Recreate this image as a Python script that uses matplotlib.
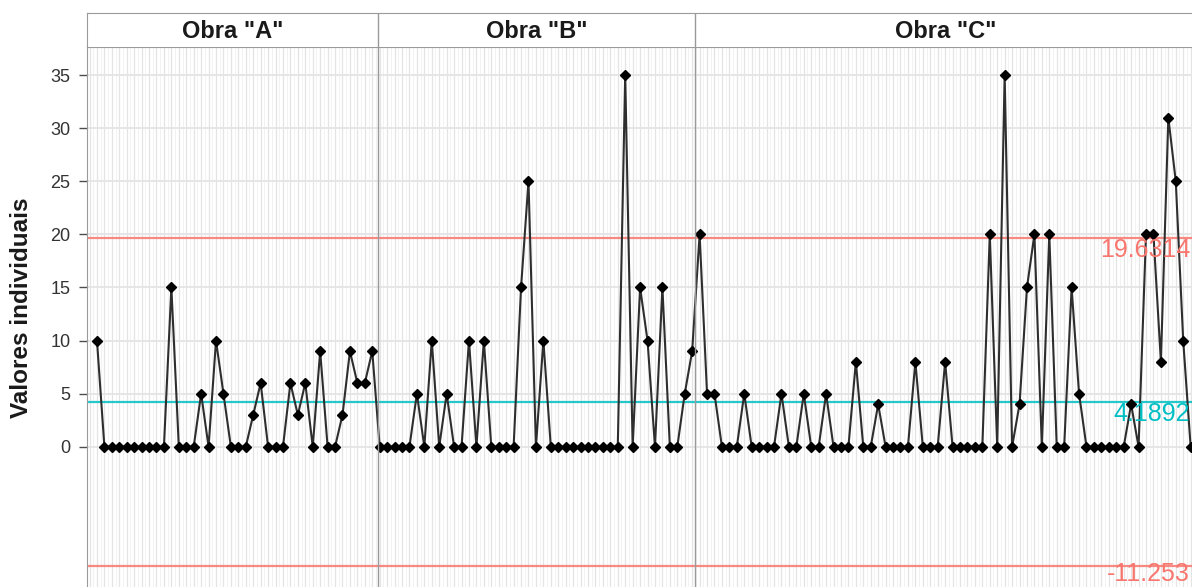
import matplotlib.pyplot as plt
import numpy as np

plt.rcParams['font.family'] = ['Liberation Sans', 'DejaVu Sans']

obras = ['Obra "A"', 'Obra "B"', 'Obra "C"']
obra_a = [10, 0, 0, 0, 0, 0, 0, 0, 0, 0, 15, 0, 0, 0, 5, 0, 10, 5, 0, 0, 0,
          3, 6, 0, 0, 0, 6, 3, 6, 0, 9, 0, 0, 3, 9, 6, 6, 9]
obra_b = [0, 0, 0, 0, 0, 5, 0, 10, 0, 5, 0, 0, 10, 0, 10, 0, 0, 0, 0, 15, 25,
          0, 10, 0, 0, 0, 0, 0, 0, 0, 0, 0, 0, 35, 0, 15, 10, 0, 15, 0, 0, 5, 9]
obra_c = [20, 5, 5, 0, 0, 0, 5, 0, 0, 0, 0, 5, 0, 0, 5, 0, 0, 5, 0, 0, 0, 8,
          0, 0, 4, 0, 0, 0, 0, 8, 0, 0, 0, 8, 0, 0, 0, 0, 0, 20, 0, 35, 0, 4,
          15, 20, 0, 20, 0, 0, 15, 5, 0, 0, 0, 0, 0, 0, 4, 0, 20, 20, 8, 31,
          25, 10, 0]
ucl = 19.6314
cl = 4.1892
lcl = -11.253

valores = np.array(obra_a + obra_b + obra_c, dtype=float)
idx = np.arange(len(valores))
n_a, n_b = len(obra_a), len(obra_b)

# panel limits in index units
x_left = -1.34
x_right = x_left + 1105 / 7.44
limites = [x_left, n_a - 0.23, n_a + n_b - 0.62, x_right + 0.7]

fig = plt.figure(figsize=(11.92, 5.87), dpi=100)
ax = fig.add_axes([87 / 1192, 0, 1105 / 1192, 540 / 587])
strip = fig.add_axes([87 / 1192, 540 / 587, 1105 / 1192, 34 / 587])

# grid
for v in np.arange(-1, 149, 0.5):
    ax.axvline(v, color='#E4E4E4' if v % 1 == 0 else '#F0F0F0',
               lw=0.9 if v % 1 == 0 else 0.6, zorder=0)
for h in range(0, 36, 5):
    ax.axhline(h, color='#E4E4E4', lw=1.3, zorder=0)

# control limits
ax.axhline(ucl, color='#F8766D', lw=1.6, alpha=0.85, zorder=1)
ax.axhline(lcl, color='#F8766D', lw=1.6, alpha=0.85, zorder=1)
ax.axhline(cl, color='#00BFC4', lw=1.6, alpha=0.85, zorder=1)

ax.plot(idx, valores, color='#2E2E2E', lw=1.5, zorder=2)
ax.plot(idx, valores, ls='none', marker='D', ms=5.6, color='black', zorder=3)

# limit labels at the right
tx = (1190 - 87) / 1105
for val, col, lab, dy in [(ucl, '#F8766D', '19.6314', 0), (cl, '#00BFC4', '4.1892', 0),
                          (lcl, '#F8766D', '-11.253', 3)]:
    ax.annotate(lab, (tx, val), xycoords=ax.get_yaxis_transform(),
                xytext=(0, dy), textcoords='offset points', ha='right',
                va='top', fontsize=18, color=col, annotation_clip=False)

# panel separators
for b in limites[1:3]:
    ax.axvline(b, color='#9A9A9A', lw=1.0, zorder=4)
    strip.axvline(b, color='#9A9A9A', lw=1.0)

ax.set_xlim(x_left, x_right)
ax.set_ylim(-13.2, 37.64)
ax.set_xticks([])
ax.set_yticks(range(0, 36, 5))
ax.tick_params(axis='y', length=6, width=1, color='#4D4D4D', labelsize=13,
               labelcolor='#333333', pad=6)
for s in ['right', 'bottom']:
    ax.spines[s].set_visible(False)
for s in ['left', 'top']:
    ax.spines[s].set_color('#9A9A9A')

strip.set_xlim(x_left, x_right)
strip.set_ylim(0, 1)
strip.set_xticks([])
strip.set_yticks([])
for s in ['right', 'bottom']:
    strip.spines[s].set_visible(False)
for s in ['left', 'top']:
    strip.spines[s].set_color('#9A9A9A')
for i, nome in enumerate(obras):
    strip.text((limites[i] + limites[i + 1]) / 2, 0.47, nome, ha='center',
               va='center', fontsize=17, fontweight='bold', color='#1A1A1A')

fig.text(22 / 1192, 1 - 308 / 587, 'Valores individuais', rotation=90,
         ha='center', va='center', fontsize=17.5, fontweight='bold',
         color='#1A1A1A')

fig.savefig('out.png', dpi=100)
